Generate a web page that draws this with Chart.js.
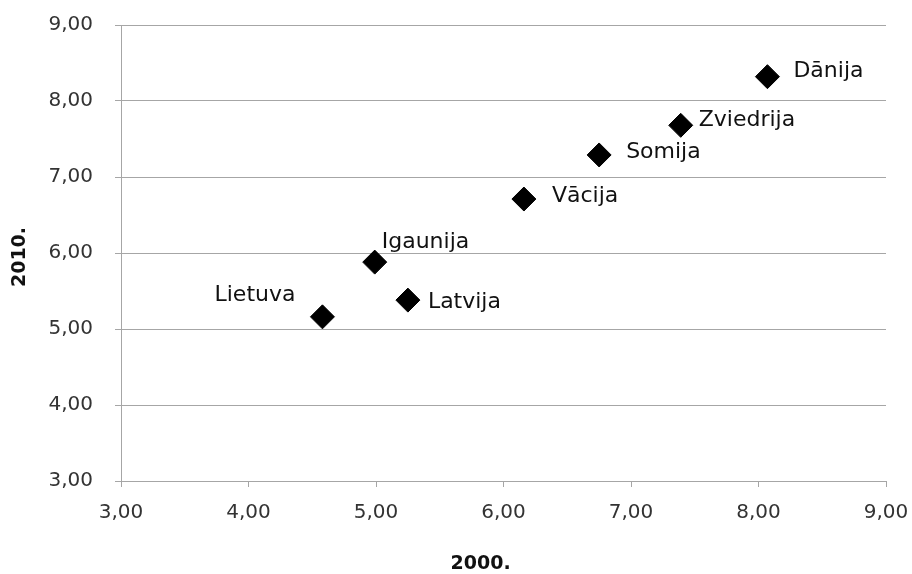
<!DOCTYPE html>
<html>
<head>
<meta charset="utf-8">
<script src="https://cdn.jsdelivr.net/npm/chart.js@4"></script>
<style>
  html, body { margin: 0; padding: 0; background: #fff; }
  #wrap { width: 912px; height: 574px; }
</style>
</head>
<body>
<div id="wrap"><canvas id="scatterChart" width="912" height="574"></canvas></div>
<script>
// valstis un vērtības (2000. / 2010.)
const countries = ['Dānija', 'Zviedrija', 'Somija', 'Vācija', 'Igaunija', 'Latvija', 'Lietuva'];
const values2000 = [8.07, 7.39, 6.75, 6.16, 4.99, 5.25, 4.58];
const values2010 = [8.32, 7.68, 7.29, 6.71, 5.88, 5.38, 5.16];
const axisMin = 3;
const axisMax = 9;
const xTitle = '2000.';
const yTitle = '2010.';

// etiķešu novietojums attiecībā pret punktu: [dx, dy, align]
const labelPlace = [
    [26, -5, 'left'],
    [18, -5, 'left'],
    [27, -3, 'left'],
    [28, -3, 'left'],
    [7, -20, 'left'],
    [20, 2, 'left'],
    [-27, -22, 'right']
];

const fmt = v => v.toFixed(2).replace('.', ',');
const $ = id => document.getElementById(id);

const pointLabels = {
    id: 'pointLabels',
    afterDatasetsDraw(chart) {
        const ctx = chart.ctx;
        const meta = chart.getDatasetMeta(0);
        ctx.save();
        ctx.font = '22px "DejaVu Sans"';
        ctx.fillStyle = '#111';
        ctx.textBaseline = 'middle';
        meta.data.forEach((pt, i) => {
            const [dx, dy, align] = labelPlace[i];
            ctx.textAlign = align;
            ctx.fillText(countries[i], pt.x + dx, pt.y + dy);
        });
        // asu nosaukumi
        const area = chart.chartArea;
        ctx.font = 'bold 19px "DejaVu Sans"';
        ctx.textAlign = 'center';
        ctx.fillText(xTitle, area.left + (area.right - area.left) * 0.470, 564);
        ctx.translate(20, (area.top + area.bottom) / 2 + 4);
        ctx.rotate(-Math.PI / 2);
        ctx.fillText(yTitle, 0, 0);
        ctx.restore();
    }
};

window.onload = () => {
    const ctx = $('scatterChart').getContext('2d');
    new Chart(ctx, {
        type: 'scatter',
        data: {
            datasets: [{
                label: yTitle,
                data: values2000.map((x, i) => ({x: x, y: values2010[i]})),
                pointStyle: 'rectRot',
                pointRadius: 12,
                pointHoverRadius: 12,
                backgroundColor: '#000',
                borderColor: '#000',
                borderWidth: 1
            }]
        },
        options: {
            responsive: false,
            animation: false,
            layout: {padding: {top: 25, right: 26, left: 0, bottom: 0}},
            plugins: {
                legend: {display: false},
                tooltip: {enabled: false}
            },
            scales: {
                x: {
                    type: 'linear',
                    min: axisMin,
                    max: axisMax,
                    afterFit: s => {
                        s.height = 93;
                        s.paddingLeft = 0;
                        s.paddingRight = 0;
                    },
                    ticks: {
                        stepSize: 1,
                        callback: v => fmt(v),
                        color: '#333',
                        font: {family: 'DejaVu Sans', size: 20},
                        padding: 14,
                        maxRotation: 0
                    },
                    grid: {drawOnChartArea: false, tickLength: 6, color: '#a6a6a6'},
                    border: {color: '#a6a6a6'}
                },
                y: {
                    type: 'linear',
                    min: axisMin,
                    max: axisMax,
                    afterFit: s => {
                        s.width = 121;
                        s.paddingTop = 0;
                        s.paddingBottom = 0;
                    },
                    ticks: {
                        stepSize: 1,
                        callback: v => fmt(v),
                        color: '#333',
                        font: {family: 'DejaVu Sans', size: 20},
                        padding: 22
                    },
                    grid: {color: '#a6a6a6', tickLength: 6},
                    border: {color: '#a6a6a6'}
                }
            }
        },
        plugins: [pointLabels]
    });
};
</script>
</body>
</html>
